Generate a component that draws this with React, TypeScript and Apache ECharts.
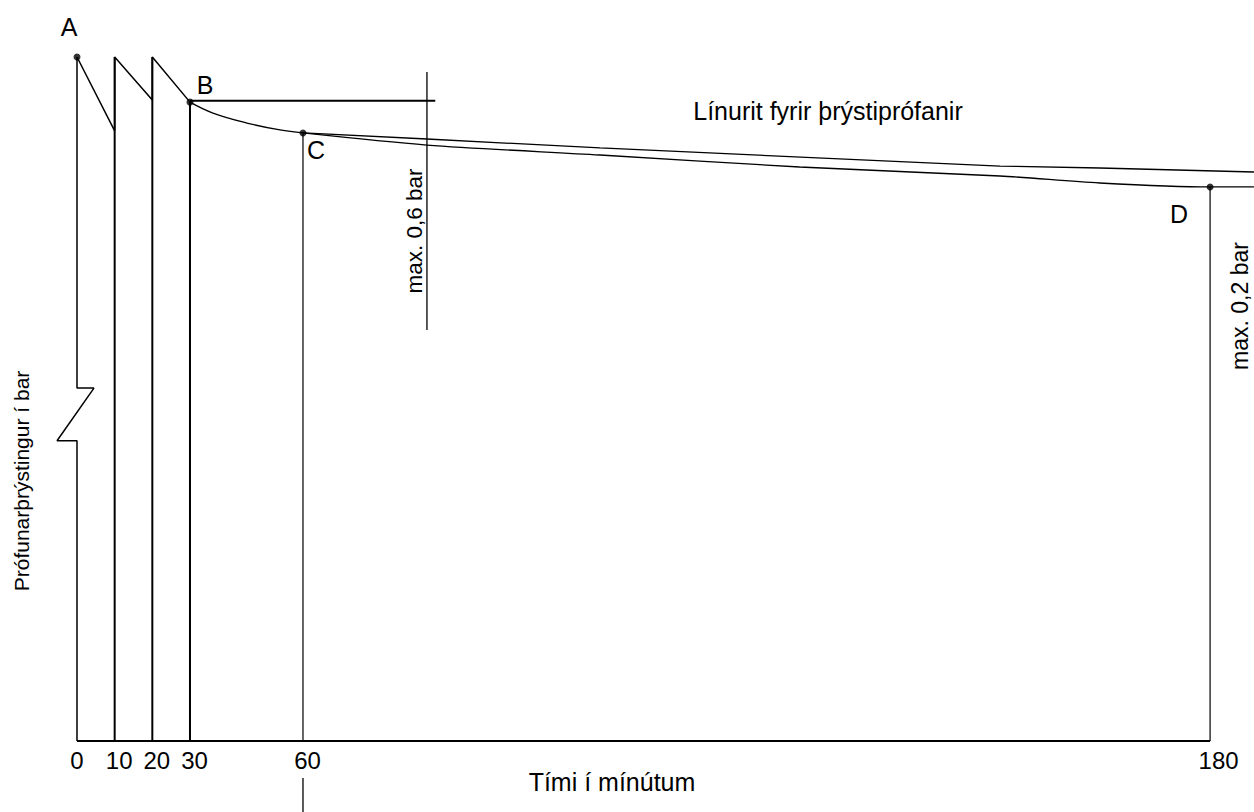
import React, { useEffect, useRef } from "react";
import * as echarts from "echarts";

// ---- data (time in minutes, pressure in relative units, 100 = test pressure) ----
const tickMinutes = [0, 10, 20, 30, 60, 180];

// A -> 10 -> 20 -> B sawtooth (re-pressurised at 10 and 20 min)
const sawTime = [0, 10, 10, 20, 20, 30];
const sawPressure = [100, 89.2, 100, 93.7, 100, 93.4];

// B -> C decay curve
const bcTime = [30, 36.1, 45.1, 53.9, 60];
const bcPressure = [93.4, 91.8, 90.35, 89.33, 88.9];

// C -> D decay curve (lower)
const cdTime = [60, 76.4, 99.3, 125.7, 152.2, 165.4, 180, 185.8];
const cdPressure = [88.9, 87.13, 85.67, 83.92, 82.6, 81.58, 81.0, 81.0];

// upper reference line from C
const refTime = [60, 76.4, 99.3, 152.2, 165.4, 185.8];
const refPressure = [88.9, 88.01, 86.7, 84.06, 83.77, 83.19];

// vertical drop lines to the time axis
const dropTime = [10, 20, 30, 60, 180];
const dropTop = [100, 100, 93.4, 88.9, 81.0];
const dropWidth = [2, 2, 2, 1.2, 1.2];

// marked points
const pointNames = ["A", "B", "C", "D"];
const pointTime = [0, 30, 60, 180];
const pointPressure = [100, 93.4, 88.9, 81.0];

// B horizontal line and max 0,6 bar marker
const bLineTime = [30, 77.5];
const bLinePressure = [93.6, 93.6];
const max06Time = [76.4, 76.4];
const max06Pressure = [97.8, 60.1];

// pressure axis with break
const axisTime = [0, 0, 4.5, -5.3, 0, 0];
const axisPressure = [100, 51.6, 51.6, 43.9, 43.9, 0];

// small marker under the 60 min tick
const belowTime = [60, 60];
const belowPressure = [-5.4, -10.4];

// time axis is stretched after 60 min
const toAxis = (t: number) => (t <= 60 ? t : 60 + (t - 60) * 2.007);

const zip = (xs: number[], ys: number[]) => xs.map((x, i) => [toAxis(x), ys[i]]);

const FONT = "Liberation Sans, Arial, sans-serif";

export default function App() {
  const ref = useRef<HTMLDivElement>(null);
  useEffect(() => {
    if (!ref.current) return;
    const chart = echarts.init(ref.current, undefined, { renderer: "svg" });

    const lineSeries = (data: number[][], width: number) => ({
      type: "line",
      data,
      showSymbol: false,
      symbol: "none",
      clip: false,
      silent: true,
      lineStyle: { color: "#000", width },
    });

    const series: any[] = [
      lineSeries(zip(axisTime, axisPressure), 1.5),
      lineSeries(zip([0, 180], [0, 0]), 2),
      lineSeries(zip(sawTime, sawPressure), 1.5),
      { ...lineSeries(zip(bcTime, bcPressure), 1.3), smooth: 0.4 },
      { ...lineSeries(zip(cdTime, cdPressure), 1.3), smooth: 0.3 },
      lineSeries(zip(refTime, refPressure), 1.3),
      lineSeries(zip(bLineTime, bLinePressure), 2),
      lineSeries(zip(max06Time, max06Pressure), 1.3),
      lineSeries(zip(belowTime, belowPressure), 1.3),
      ...dropTime.map((t, i) =>
        lineSeries(zip([t, t], [dropTop[i], 0]), dropWidth[i])
      ),
      {
        type: "scatter",
        data: zip(pointTime, pointPressure),
        symbolSize: 7,
        clip: false,
        itemStyle: { color: "#000" },
        silent: true,
      },
    ];

    const txt = (text: string, x: number, y: number, size = 23, rot = 0) => ({
      type: "text",
      x,
      y,
      rotation: rot,
      silent: true,
      style: {
        text,
        fill: "#000",
        font: `${size}px ${FONT}`,
        align: "center",
        verticalAlign: "middle",
      },
    });

    const labelPos: Record<string, [number, number]> = {
      A: [69, 27],
      B: [205, 85],
      C: [316, 150],
      D: [1179, 214],
    };

    const rs = { fontSize: 24, fontFamily: FONT, color: "#000" };

    chart.setOption({
      animation: false,
      backgroundColor: "#fff",
      grid: { left: 1.67, right: 0, top: 57, bottom: 71 },
      xAxis: {
        type: "value",
        min: -20,
        max: 312.5,
        axisLine: { show: false },
        axisTick: { show: false },
        splitLine: { show: false },
        axisLabel: {
          customValues: tickMinutes.map(toAxis),
          formatter: (v: number) => {
            const i = tickMinutes.findIndex((t) => Math.abs(toAxis(t) - v) < 0.01);
            if (i < 0) return "";
            const style = i === 0 ? "z" : i === tickMinutes.length - 1 ? "l" : "s";
            return `{${style}|${tickMinutes[i]}}`;
          },
          rich: {
            z: { ...rs },
            s: { ...rs, padding: [0, 0, 0, 9] },
            l: { ...rs, padding: [0, 0, 0, 17] },
          },
          fontSize: 24,
          fontFamily: FONT,
          color: "#000",
          margin: 7,
        },
      },
      yAxis: {
        type: "value",
        min: 0,
        max: 100,
        show: false,
      },
      series,
      graphic: [
        txt("Línurit fyrir þrýstiprófanir", 828, 111, 25),
        txt("Tími í mínútum", 612, 782, 25),
        txt("Prófunarþrýstingur í bar", 21, 481, 21, Math.PI / 2),
        txt("max. 0,6 bar", 414, 231, 22.5, Math.PI / 2),
        txt("max. 0,2 bar", 1240, 306, 23, Math.PI / 2),
        ...pointNames.map((n) => txt(n, labelPos[n][0], labelPos[n][1], 25)),
      ],
    });
    return () => chart.dispose();
  }, []);

  return (
    <div
      ref={ref}
      style={{ position: "absolute", left: 0, top: 0, width: 1254, height: 812, background: "#fff" }}
    />
  );
}
